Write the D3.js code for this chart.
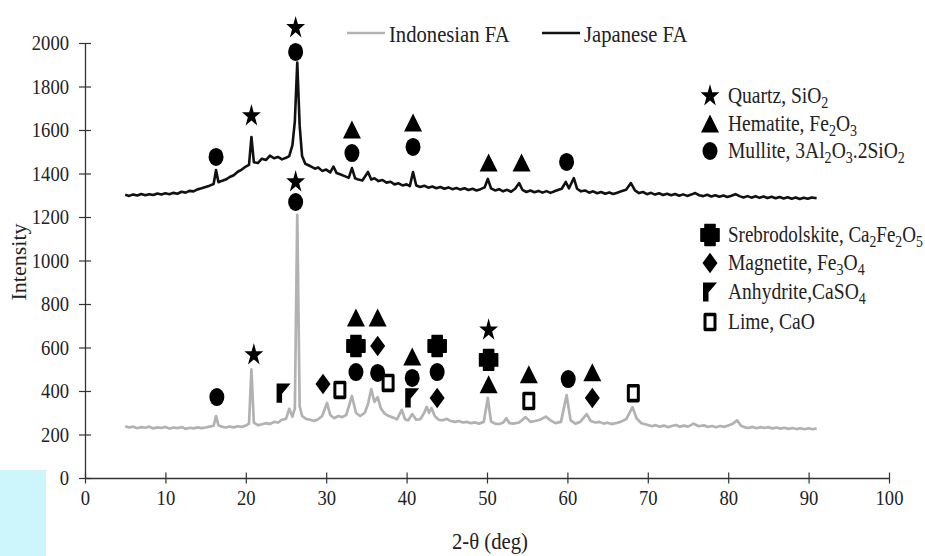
<!DOCTYPE html>
<html>
<head>
<meta charset="utf-8">
<script src="https://cdn.jsdelivr.net/npm/d3@7"></script>
<style>
  body { margin: 0; background: #fff; }
  svg { display: block; font-family: "Liberation Serif", "Times New Roman", serif; }
</style>
</head>
<body>
<svg id="chart" width="925" height="556"></svg>
<script>
// axis ticks
const xTicks = [0, 10, 20, 30, 40, 50, 60, 70, 80, 90, 100];
const yTicks = [0, 200, 400, 600, 800, 1000, 1200, 1400, 1600, 1800, 2000];

// XRD patterns, [2-theta, intensity]
const indonesian = [
  [5,238],[5.5,232],[6,236],[6.5,229],[7,234],[7.5,231],[8,236],[8.5,228],[9,233],[9.5,230],
  [10,235],[10.5,227],[11,232],[11.5,229],[12,234],[12.5,226],[13,231],[13.5,228],[14,233],[14.5,229],
  [15,232],[15.5,236],[16,240],[16.3,285],[16.6,242],[17,236],[17.5,232],[18,237],[18.5,233],[19,238],
  [19.5,235],[20,241],[20.4,250],[20.7,500],[21,255],[21.5,243],[22,247],[22.5,252],[23,248],[23.5,258],
  [24,255],[24.5,268],[25,272],[25.4,318],[25.8,282],[26.1,320],[26.4,1210],[26.7,330],[27,285],[27.5,272],
  [28,268],[28.5,262],[29,270],[29.5,285],[30.1,345],[30.5,290],[31,275],[31.5,285],[32,280],[32.5,290],
  [33.2,377],[33.7,300],[34.2,285],[34.8,300],[35.2,340],[35.6,409],[36,350],[36.4,372],[36.8,320],[37.3,295],
  [37.8,285],[38.3,278],[38.8,270],[39.4,313],[39.8,270],[40.2,265],[40.7,294],[41.2,268],[41.7,270],[42.2,300],
  [42.5,327],[42.8,300],[43.1,322],[43.5,285],[44,268],[44.5,265],[45,272],[45.5,262],[46,258],[46.5,262],
  [47,255],[47.5,258],[48,252],[48.5,256],[49,250],[49.6,258],[50.1,368],[50.5,260],[51,250],[51.5,248],
  [52,254],[52.4,275],[52.8,252],[53.3,250],[54,255],[54.8,280],[55.4,258],[56,262],[56.6,268],[57.3,282],
  [57.9,265],[58.5,252],[59.2,258],[59.9,381],[60.4,265],[61,250],[61.6,258],[62.4,294],[62.9,262],[63.5,255],
  [64,258],[64.5,250],[65,254],[65.5,248],[66,252],[66.6,258],[67.3,270],[68.1,326],[68.6,275],[69.2,252],
  [70,244],[70.5,238],[71,243],[71.5,236],[72,241],[72.5,234],[73,239],[73.5,244],[74,236],[74.5,241],
  [75,236],[75.7,250],[76.3,238],[77,242],[77.5,235],[78,239],[78.5,233],[79,239],[79.5,235],[80,241],
  [80.5,248],[81.1,265],[81.6,240],[82,234],[82.5,230],[83,235],[83.5,229],[84,234],[84.5,230],[85,234],
  [85.5,228],[86,232],[86.5,227],[87,231],[87.5,226],[88,230],[88.5,225],[89,229],[89.5,224],[90,229],
  [90.5,224],[91,228]
];

const japanese = [
  [5,1302],[5.5,1297],[6,1304],[6.5,1299],[7,1306],[7.5,1300],[8,1305],[8.5,1301],[9,1308],[9.5,1303],
  [10,1309],[10.5,1305],[11,1311],[11.5,1307],[12,1316],[12.5,1312],[13,1320],[13.5,1318],[14,1327],[14.5,1332],
  [15,1338],[15.5,1344],[16,1352],[16.3,1416],[16.6,1360],[17,1366],[17.5,1372],[18,1384],[18.5,1392],[19,1408],
  [19.5,1418],[20,1432],[20.4,1440],[20.7,1568],[21,1452],[21.5,1448],[22,1468],[22.5,1462],[23,1482],[23.5,1470],
  [24,1476],[24.5,1465],[25,1472],[25.4,1480],[25.8,1530],[26.1,1640],[26.4,1910],[26.7,1620],[27,1480],[27.4,1445],
  [27.8,1438],[28.2,1430],[28.6,1422],[29,1428],[29.5,1412],[30,1418],[30.5,1405],[30.9,1432],[31.3,1402],[31.8,1395],
  [32.3,1388],[32.8,1380],[33.2,1425],[33.6,1378],[34,1372],[34.5,1368],[35.2,1407],[35.6,1372],[36,1378],[36.5,1365],
  [37,1370],[37.5,1358],[38,1362],[38.5,1350],[39,1355],[39.5,1345],[40,1350],[40.4,1342],[40.8,1407],[41.2,1345],
  [41.7,1338],[42.2,1344],[42.7,1335],[43.2,1340],[43.7,1332],[44.2,1338],[44.7,1330],[45.2,1336],[45.7,1328],[46.2,1333],
  [46.7,1326],[47.2,1332],[47.7,1324],[48.2,1330],[48.7,1322],[49.2,1328],[49.7,1336],[50.1,1375],[50.5,1332],[51,1322],
  [51.5,1328],[52,1318],[52.5,1325],[53,1316],[53.5,1330],[54,1356],[54.4,1325],[54.9,1315],[55.4,1322],[55.9,1314],
  [56.4,1320],[56.9,1312],[57.4,1319],[57.9,1311],[58.4,1318],[58.9,1325],[59.3,1330],[59.8,1361],[60.2,1332],[60.8,1379],
  [61.2,1330],[61.7,1318],[62.2,1322],[62.7,1312],[63.2,1318],[63.7,1309],[64.2,1315],[64.7,1307],[65.2,1313],[65.7,1306],
  [66.2,1312],[66.7,1318],[67.3,1325],[67.9,1356],[68.4,1322],[68.9,1310],[69.4,1315],[69.9,1305],[70.4,1311],[70.9,1303],
  [71.4,1309],[71.9,1301],[72.4,1307],[72.9,1300],[73.4,1306],[73.9,1298],[74.4,1304],[74.9,1297],[75.4,1303],[75.9,1310],
  [76.4,1300],[76.9,1296],[77.4,1302],[77.9,1294],[78.4,1300],[78.9,1293],[79.4,1299],[79.9,1292],[80.4,1298],[80.9,1305],
  [81.4,1296],[81.9,1290],[82.4,1296],[82.9,1289],[83.4,1295],[83.9,1288],[84.4,1294],[84.9,1287],[85.4,1293],[85.9,1286],
  [86.4,1292],[86.9,1285],[87.4,1291],[87.9,1284],[88.4,1290],[88.9,1283],[89.4,1289],[89.9,1284],[90.4,1290],[91,1286]
];

// phase markers, [2-theta, intensity of the marker]
const quartz = [[26.2,2070],[20.7,1665],[26.2,1361],[21.0,566],[50.2,680]];
const hematite = [[33.2,1600],[40.8,1632],[50.2,1448],[54.3,1448],[33.7,735],[36.4,735],[40.7,556],[50.2,428],[55.2,474],[63.1,483]];
const mullite = [[16.3,1476],[26.2,1959],[33.2,1494],[40.8,1522],[59.9,1453],[16.4,372],[26.2,1269],[33.7,487],[36.4,483],[40.7,460],[43.8,487],[60.1,455]];
const srebrodolskite = [[33.7,607],[43.8,607],[50.2,543]];
const magnetite = [[29.6,432],[36.4,607],[43.8,368],[63.1,368]];
const anhydrite = [[24.7,390],[40.7,368]];
const lime = [[31.7,405],[37.7,437],[55.2,354],[68.2,390]];

const seriesNames = ["Indonesian FA", "Japanese FA"];
const phaseLabels = [
  "Quartz, SiO_2", "Hematite, Fe_2O_3", "Mullite, 3Al_2O_3.2SiO_2",
  "Srebrodolskite, Ca_2Fe_2O_5", "Magnetite, Fe_3O_4", "Anhydrite,CaSO_4", "Lime, CaO"
];

const svg = d3.select("#chart");

// light cyan patch at the lower left of the scan
svg.append("rect").attr("x", 0).attr("y", 470).attr("width", 46).attr("height", 86).attr("fill", "#cdf6fc");

const x = d3.scaleLinear().domain([0, 100]).range([85, 889]);
const y = d3.scaleLinear().domain([0, 2000]).range([478, 43]);

function squeeze(sel, k) {
  sel.each(function () {
    const L = this.getComputedTextLength();
    this.setAttribute("textLength", L * k);
    this.setAttribute("lengthAdjust", "spacingAndGlyphs");
  });
}

// axes
const xAxis = svg.append("g").attr("transform", `translate(0,${y(0)})`)
  .call(d3.axisBottom(x).tickValues(xTicks).tickFormat(d3.format("d")).tickSize(6).tickPadding(0).tickSizeOuter(0));
const yAxis = svg.append("g").attr("transform", `translate(${x(0)},0)`)
  .call(d3.axisLeft(y).tickValues(yTicks).tickFormat(d3.format("d")).tickSize(6).tickPadding(0).tickSizeOuter(0));

[xAxis, yAxis].forEach(a => {
  a.select(".domain").attr("stroke", "#333").attr("stroke-width", 1.3);
  a.selectAll(".tick line").attr("stroke", "#333").attr("stroke-width", 1.2);
  a.selectAll(".tick text").attr("fill", "#222").attr("font-size", 20)
    .attr("font-family", "Liberation Serif, serif");
});
xAxis.selectAll(".tick line").attr("y1", -5.5).attr("y2", 5.5);
xAxis.selectAll(".tick text").attr("y", 27).attr("dy", 0);
yAxis.selectAll(".tick line").attr("x1", -6).attr("x2", 6);
yAxis.selectAll(".tick text").attr("x", -16).attr("dy", "0.33em");
squeeze(xAxis.selectAll(".tick text"), 0.93);
squeeze(yAxis.selectAll(".tick text"), 0.93);

// axis titles
const xt = svg.append("text").attr("x", 490).attr("y", 549).attr("text-anchor", "middle")
  .attr("font-size", 23).attr("fill", "#222").text("2-θ (deg)");
squeeze(xt, 0.9);
svg.append("text").attr("transform", "translate(26,262) rotate(-90)").attr("text-anchor", "middle")
  .attr("font-size", 22).attr("fill", "#222").text("Intensity");

// patterns
const line = d3.line().x(d => x(d[0])).y(d => y(d[1]));
svg.append("path").datum(indonesian).attr("d", line)
  .attr("fill", "none").attr("stroke", "#b2b2b2").attr("stroke-width", 2.7).attr("stroke-linejoin", "round");
svg.append("path").datum(japanese).attr("d", line)
  .attr("fill", "none").attr("stroke", "#111").attr("stroke-width", 2.6).attr("stroke-linejoin", "round");

// marker shapes
const shapes = {
  star: { d: d3.symbol(d3.symbolStar, 110)() },
  triangle: { d: "M0,-8L9,7L-9,7Z" },
  circle: { d: "M-7.5,0A7.5,7.5 0 1,0 7.5,0A7.5,7.5 0 1,0 -7.5,0Z" },
  cross: { d: "M-5,-8.5H5V-5H9V5H5V8.5H-5V5H-9V-5H-5Z", round: true },
  diamond: { d: "M0,-8.5L7.5,0L0,8.5L-7.5,0Z" },
  flag: { d: "M-7,-8H7L-1.5,0.5V8H-7Z" },
  square: { d: "M-5,-6.2H5V6.2H-5Z", open: true }
};

function drawMarkers(data, shape) {
  const s = shapes[shape];
  svg.append("g").selectAll("path").data(data).join("path")
    .attr("transform", d => `translate(${x(d[0])},${y(d[1])}) scale(1,1.2)`)
    .attr("d", s.d)
    .attr("fill", s.open ? "#fff" : "#000")
    .attr("stroke", "#000")
    .attr("stroke-width", s.open ? 3 : (s.round ? 1.6 : 0))
    .attr("stroke-linejoin", "round");
}
drawMarkers(quartz, "star");
drawMarkers(hematite, "triangle");
drawMarkers(mullite, "circle");
drawMarkers(srebrodolskite, "cross");
drawMarkers(magnetite, "diamond");
drawMarkers(anhydrite, "flag");
drawMarkers(lime, "square");

// text with _n subscripts
function richText(t, str) {
  const parts = str.split(/_(\d)/);
  parts.forEach((p, i) => {
    if (!p) return;
    const sub = i % 2 === 1;
    t.append("tspan").attr("font-size", sub ? "72%" : null)
      .attr("dy", sub ? 5 : (i > 1 ? -5 : 0))
      .text(p);
  });
}

// phase legend (text narrowed like the scanned original)
const legendShapes = ["star", "triangle", "circle", "cross", "diamond", "flag", "square"];
const legendY = [96, 124, 151, 235, 263, 292, 322];
const lg = svg.append("g");
phaseLabels.forEach((lab, i) => {
  const s = shapes[legendShapes[i]];
  lg.append("path").attr("transform", `translate(710,${legendY[i]}) scale(1,1.2)`)
    .attr("d", s.d)
    .attr("fill", s.open ? "#fff" : "#000").attr("stroke", "#000")
    .attr("stroke-width", s.open ? 3 : (s.round ? 1.6 : 0)).attr("stroke-linejoin", "round");
  const t = lg.append("text").attr("transform", `translate(728,${legendY[i] + 7}) scale(0.85,1)`)
    .attr("font-size", 23).attr("fill", "#222");
  richText(t, lab);
  // keep the longest label inside the picture
  const w = t.node().getBBox().width * 0.85;
  if (728 + w > 923) t.attr("transform", `translate(728,${legendY[i] + 7}) scale(${(0.85 * 195 / w).toFixed(3)},1)`);
});

// series legend
const sl = svg.append("g");
[["#b2b2b2", 347], ["#111", 542]].forEach((c, i) => {
  sl.append("line").attr("x1", c[1]).attr("x2", c[1] + 38).attr("y1", 33).attr("y2", 33)
    .attr("stroke", c[0]).attr("stroke-width", 2.5);
  sl.append("text").attr("transform", `translate(${c[1] + 42},42) scale(0.86,1)`)
    .attr("font-size", 24).attr("fill", "#222").text(seriesNames[i]);
});
</script>
</body>
</html>
